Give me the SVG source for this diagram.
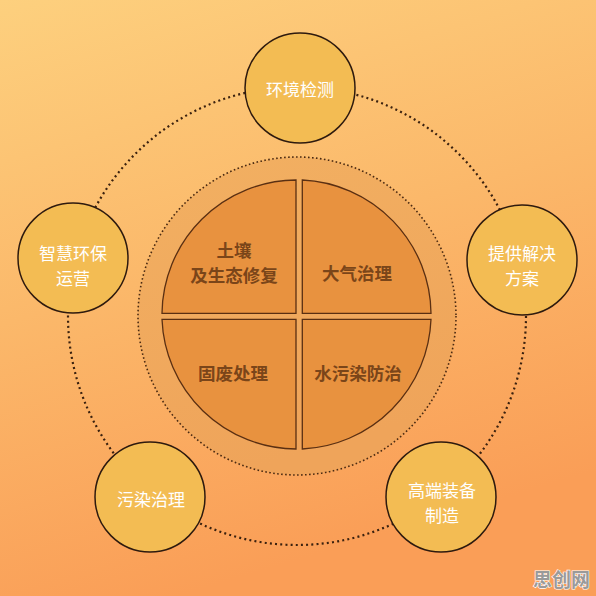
<svg xmlns="http://www.w3.org/2000/svg" width="596" height="596" viewBox="0 0 596 596">
<defs>
<linearGradient id="bg" x1="0" y1="0" x2="0.3" y2="1">
<stop offset="0" stop-color="#FDD07E"/>
<stop offset="0.5" stop-color="#FBB86A"/>
<stop offset="1" stop-color="#FA9E57"/>
</linearGradient>
<linearGradient id="ring" x1="0" y1="0" x2="0.3" y2="1">
<stop offset="0" stop-color="#F2B062"/>
<stop offset="1" stop-color="#EFA45A"/>
</linearGradient>
<style>
.node circle{fill:#F3BC53;stroke:#2E1A0E;stroke-width:1.5}
.node text{fill:#FFFFFF;font-family:"Noto Sans CJK SC","Noto Sans",sans-serif;font-size:17px;text-anchor:middle;dominant-baseline:central}
.quad path{fill:#E8923F;stroke:#5A2F12;stroke-width:1.3}
.quad text{fill:#7A4519;font-family:"Noto Sans CJK SC","Noto Sans",sans-serif;font-size:17.5px;font-weight:bold;text-anchor:middle;dominant-baseline:central}
.dots{fill:none;stroke:#3A210F;stroke-width:2.2;stroke-dasharray:2 3.2}
.fine{fill:none;stroke:#4A2A12;stroke-width:1.6;stroke-dasharray:1.6 2.4}
</style>
</defs>
<rect x="0" y="0" width="596" height="596" fill="url(#bg)"/>
<g id="connectors">
<circle class="dots" cx="297" cy="316" r="229"/>
</g>
<g id="center-ring">
<circle cx="297" cy="316" r="159" fill="url(#ring)"/>
<circle class="fine" cx="297" cy="316" r="159"/>
</g>
<g id="quadrants" class="quad">
<g id="q-soil">
<path d="M296 313.3 L296 180 A135 135 0 0 0 162 313.3 Z"/>
<text x="234" y="249">土壤</text>
<text x="234" y="274">及生态修复</text>
</g>
<g id="q-air">
<path d="M302.3 313.3 L302.3 180 A135 135 0 0 1 431 313.3 Z"/>
<text x="357" y="272">大气治理</text>
</g>
<g id="q-solid">
<path d="M296 319.3 L162 319.3 A135 135 0 0 0 296 449 Z"/>
<text x="233" y="372">固废处理</text>
</g>
<g id="q-water">
<path d="M302.3 319.3 L431 319.3 A135 135 0 0 1 302.3 449 Z"/>
<text x="358" y="372">水污染防治</text>
</g>
</g>
<g id="node-monitor" class="node">
<circle cx="300" cy="88" r="55"/>
<text x="300" y="88">环境检测</text>
</g>
<g id="node-solution" class="node">
<circle cx="522" cy="260" r="55"/>
<text x="522" y="252">提供解决</text>
<text x="522" y="277">方案</text>
</g>
<g id="node-equipment" class="node">
<circle cx="441" cy="497" r="55"/>
<text x="442" y="489">高端装备</text>
<text x="442" y="514">制造</text>
</g>
<g id="node-pollution" class="node">
<circle cx="150" cy="497" r="55"/>
<text x="151" y="498">污染治理</text>
</g>
<g id="node-operation" class="node">
<circle cx="73" cy="258" r="55"/>
<text x="73" y="252">智慧环保</text>
<text x="73" y="277">运营</text>
</g>
<text x="590" y="578" text-anchor="end" dominant-baseline="central" font-family="'Noto Sans CJK SC',sans-serif" font-size="19" font-weight="bold" fill="#9A9A9A" stroke="#FFFFFF" stroke-width="1.2" paint-order="stroke">思创网</text>
</svg>
